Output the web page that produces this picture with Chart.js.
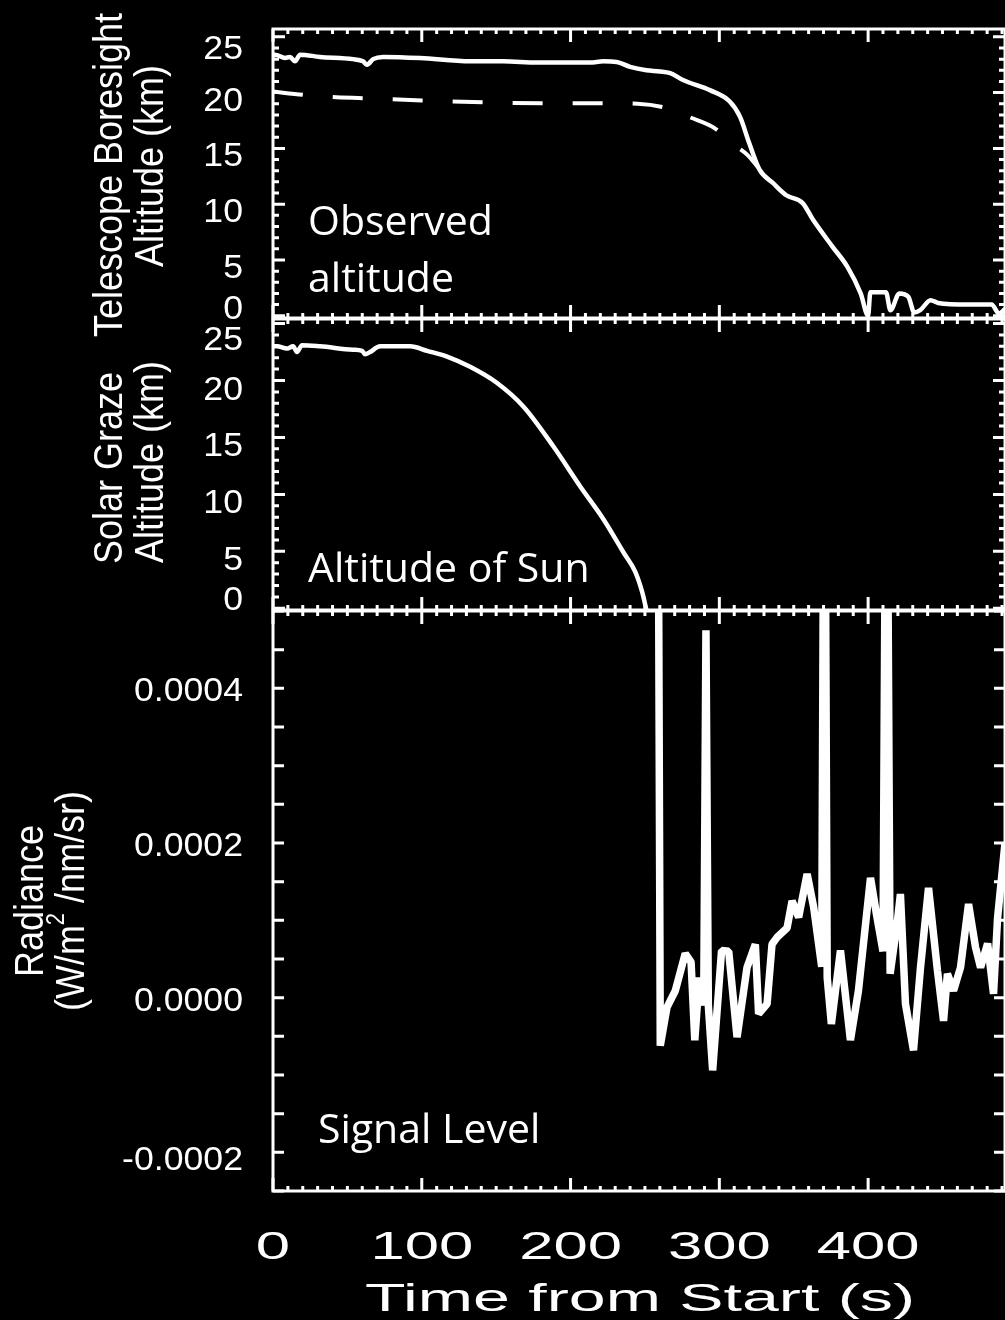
<!DOCTYPE html>
<html>
<head>
<meta charset="utf-8">
<title>Occultation: altitude and signal level</title>
<script src="https://cdn.jsdelivr.net/npm/chart.js@4.4.1/dist/chart.umd.min.js"></script>
<style>
  html, body { margin: 0; padding: 0; background: #000; overflow: hidden; }
  #wrap { position: relative; width: 1005px; height: 1320px; }
  #wrap canvas { position: absolute; left: 0; top: 0; }
</style>
</head>
<body>
<div id="wrap">
  <canvas id="observedChart" width="1005" height="1320"></canvas>
  <canvas id="sunChart" width="1005" height="1320"></canvas>
  <canvas id="signalChart" width="1005" height="1320"></canvas>
</div>
<script>
// time axis (s) and tick labels
const timeMax = 492;
const timeTicks = [0, 100, 200, 300, 400];
const altitudeTicks = [0, 5, 10, 15, 20, 25];
const radianceTicks = [-0.0002, 0, 0.0002, 0.0004];

// telescope boresight altitude, observed (solid)
const observedTime = [0, 1.3, 8.1, 11.4, 14.8, 18.2, 31.6, 53.8, 60.5, 63.2, 67.3, 74, 98.9, 132.5, 154.7, 177.6,
  213, 222, 231, 240, 251, 260, 267, 276, 294, 307, 314, 320, 327, 336, 345, 356, 363, 376, 386, 395, 400,
  401.5, 412, 415, 421, 427, 431, 435, 442, 447, 467, 483, 488, 492];
const observedAlt = [23.3, 23.4, 23.1, 23.2, 22.8, 23.4, 23.2, 23.0, 22.8, 22.5, 23.0, 23.2, 23.1, 22.8, 22.8, 22.7,
  22.7, 22.8, 22.75, 22.3, 22.0, 21.9, 21.75, 21.1, 20.2, 19.2, 17.8, 15.5, 13.1, 11.9, 10.8, 10.1, 8.6, 6.2, 4.4, 2.0, 0,
  2.1, 2.1, 0.5, 2.0, 1.7, 0.3, 0.5, 1.4, 1.15, 1.0, 1.0, 0.2, 0.6];

// telescope boresight altitude, planned (dashed)
const plannedTime = [0, 20, 40, 60, 100, 150, 200, 222, 245, 265, 280, 297, 307, 319, 326];
const plannedAlt = [20.1, 19.8, 19.6, 19.5, 19.3, 19.1, 19.05, 19.05, 19.0, 18.6, 17.8, 16.8, 15.6, 14.4, 13.3];

// solar graze altitude
const sunTime = [0, 2.7, 9.4, 13.5, 16.1, 19.5, 31.6, 53.8, 59.9, 61.9, 65.2, 72, 92.2, 103.6, 117, 132.5, 150.4,
  168.4, 188.5, 206.5, 222.2, 235.6, 243.5, 248.2, 251];
const sunAlt = [23.0, 23.0, 22.8, 23.0, 22.5, 23.1, 23.0, 22.7, 22.6, 22.3, 22.5, 23.0, 23.0, 22.6, 22.1, 21.2, 19.8,
  17.7, 14.2, 10.7, 7.8, 4.9, 3.2, 1.4, -0.15];

// radiance (W/m2/nm/sr)
const signalTime = [258.5, 260.3, 264.8, 270.4, 277.1, 281, 283.5, 286.5, 289.5, 291, 292.6, 295.5, 301.5, 306.3,
  311.9, 318.6, 324.2, 326.4, 332.1, 335.4, 338.8, 345.5, 348.9, 353.3, 359, 363.4, 368.8, 370.6, 372.5, 375.3,
  381.4, 388.1, 393.5, 401.6, 405.6, 410, 412.3, 414.8, 419.7, 421.7, 425.1, 430.5, 435.2, 440.6, 446.6, 450.7,
  453.3, 457.4, 462.1, 467.5, 472.2, 475.6, 480.3, 484.3, 487, 492];
const signalRadiance = [0.0009, -0.000062, -0.0000125, 0.000009, 0.000057, 0.000046, -0.000055, 0.000026, -0.00001,
  0.000475, -0.00001, -0.000094, 0.000061, 0.00006, -0.000051, 0.000039, 0.000069, -0.000021, -0.000008, 0.000069,
  0.000078, 0.00009, 0.000125, 0.000104, 0.00016, 0.000117, 0.00004, 0.0009, 0.000026, -0.000034, 0.000061,
  -0.000055, 0.000009, 0.000155, 0.000108, 0.00006, 0.0009, 0.000031, 0.000099, 0.000134, -0.000008, -0.000068,
  0.000039, 0.000142, 0.000035, -0.00003, 0.000031, 0.000009, 0.000039, 0.000121, 0.000065, 0.000039, 0.00007,
  0.000005, 0.000103, 0.0002];

const AXIS_FONT = '"Liberation Sans", Arial, sans-serif';
const NOTE_FONT = '"Open Sans", "Noto Sans", sans-serif';
const W = 1005, H = 1320, PLOT_LEFT = 273;

const toPoints = (xs, ys) => xs.map((t, i) => ({ x: t, y: ys[i] }));

// text squeezed/stretched horizontally like the original figure
function wideText(ctx, text, x, y, sx, align) {
  ctx.save();
  ctx.translate(x, y);
  ctx.scale(sx, 1);
  ctx.textAlign = align;
  ctx.fillText(text, 0, 0);
  ctx.restore();
}

function upText(ctx, text, x, y) {
  ctx.save();
  ctx.translate(x, y);
  ctx.scale(1.13, 1);
  ctx.rotate(-Math.PI / 2);
  ctx.textAlign = 'center';
  ctx.fillText(text, 0, 0);
  ctx.restore();
}

// "(W/m^2/nm/sr)" written upward with a raised 2
function unitText(ctx, x, y) {
  const big = `36px ${AXIS_FONT}`, small = `22px ${AXIS_FONT}`;
  ctx.save();
  ctx.translate(x, y);
  ctx.scale(1.13, 1);
  ctx.rotate(-Math.PI / 2);
  ctx.textAlign = 'left';
  ctx.font = big;
  const w1 = ctx.measureText('(W/m').width, w3 = ctx.measureText(' /nm/sr)').width;
  ctx.font = small;
  const w2 = ctx.measureText('2').width;
  let cx = -(w1 + w2 + w3) / 2;
  ctx.font = big; ctx.fillText('(W/m', cx, 0); cx += w1;
  ctx.font = small; ctx.fillText('2', cx, -18); cx += w2;
  ctx.font = big; ctx.fillText(' /nm/sr)', cx, 0);
  ctx.restore();
}

// panel box, inward ticks, tick labels, titles and notes
const panelFrame = (cfg) => ({
  id: 'panelFrame',
  afterDraw(chart) {
    const { ctx, chartArea: a, scales: { x, y } } = chart;
    ctx.save();
    ctx.strokeStyle = '#fff';
    ctx.fillStyle = '#fff';
    ctx.lineWidth = 3;
    ctx.strokeRect(a.left, a.top, a.right - a.left, a.bottom - a.top);

    ctx.beginPath();
    for (let t = 0; t <= x.max; t += 10) {
      const px = x.getPixelForValue(t);
      const len = t % 100 === 0 ? 13 : 5;
      ctx.moveTo(px, a.top); ctx.lineTo(px, a.top + len);
      ctx.moveTo(px, a.bottom); ctx.lineTo(px, a.bottom - len);
    }
    const n = Math.round((cfg.tickTo - cfg.tickFrom) / cfg.minorStep);
    for (let i = 0; i <= n; i++) {
      const v = cfg.tickFrom + i * cfg.minorStep;
      const q = v / cfg.majorStep;
      const len = Math.abs(q - Math.round(q)) < 1e-6 ? cfg.majorLen : cfg.minorLen;
      const py = y.getPixelForValue(v);
      ctx.moveTo(a.left, py); ctx.lineTo(a.left + len, py);
      ctx.moveTo(a.right, py); ctx.lineTo(a.right - len, py);
    }
    ctx.stroke();

    ctx.font = `33px ${AXIS_FONT}`;
    ctx.textBaseline = 'alphabetic';
    cfg.ticks.forEach((v, i) => {
      let dy = cfg.shift[1];
      if (i === 0) dy = cfg.shift[0];
      if (i === cfg.ticks.length - 1) dy = cfg.shift[2];
      wideText(ctx, cfg.format(v), 243, y.getPixelForValue(v) + dy + 12, 1.08, 'right');
    });

    ctx.font = `36px ${AXIS_FONT}`;
    cfg.titles.forEach(tl => upText(ctx, tl.text, tl.x, tl.y));
    if (cfg.units) unitText(ctx, cfg.units.x, cfg.units.y);

    ctx.font = `41px ${NOTE_FONT}`;
    ctx.textAlign = 'left';
    cfg.notes.forEach(nt => ctx.fillText(nt.text, nt.x, nt.y));

    if (cfg.timeLabels) {
      ctx.font = `39px ${AXIS_FONT}`;
      timeTicks.forEach(t => wideText(ctx, String(t), x.getPixelForValue(t), 1259, 1.58, 'center'));
      wideText(ctx, 'Time from Start (s)', 640, 1311, 1.7, 'center');
    }
    ctx.restore();
  }
});

function panelOptions(top, bottom, yMin, yMax) {
  return {
    responsive: false,
    animation: false,
    devicePixelRatio: 1,
    layout: { padding: { left: PLOT_LEFT, right: 0, top: top, bottom: H - bottom } },
    scales: {
      x: { type: 'linear', min: 0, max: timeMax, display: false },
      y: { type: 'linear', min: yMin, max: yMax, display: false }
    },
    plugins: { legend: { display: false }, tooltip: { enabled: false } }
  };
}

const lineStyle = { borderColor: '#fff', pointRadius: 0, fill: false };

new Chart(document.getElementById('observedChart'), {
  type: 'line',
  data: {
    datasets: [
      { ...lineStyle, data: toPoints(plannedTime, plannedAlt), borderWidth: 4, borderDash: [30, 30],
        cubicInterpolationMode: 'monotone' },
      { ...lineStyle, data: toPoints(observedTime, observedAlt), borderWidth: 4.5, cubicInterpolationMode: 'monotone' }
    ]
  },
  options: panelOptions(29, 318, -0.2, 25.7),
  plugins: [panelFrame({
    tickFrom: 0, tickTo: 25, minorStep: 1, majorStep: 5, majorLen: 12, minorLen: 6,
    ticks: altitudeTicks, format: v => String(v), shift: [-9, 6, 10],
    titles: [{ text: 'Telescope Boresight', x: 122, y: 175 }, { text: 'Altitude (km)', x: 163, y: 166 }],
    notes: [{ text: 'Observed', x: 308, y: 235 }, { text: 'altitude', x: 308, y: 292 }]
  })]
});

new Chart(document.getElementById('sunChart'), {
  type: 'line',
  data: {
    datasets: [
      { ...lineStyle, data: toPoints(sunTime, sunAlt), borderWidth: 4.5, cubicInterpolationMode: 'monotone' }
    ]
  },
  options: panelOptions(319, 610, -0.15, 25.4),
  plugins: [panelFrame({
    tickFrom: 0, tickTo: 25, minorStep: 1, majorStep: 5, majorLen: 12, minorLen: 6,
    ticks: altitudeTicks, format: v => String(v), shift: [-10, 7, 14],
    titles: [{ text: 'Solar Graze', x: 122, y: 468 }, { text: 'Altitude (km)', x: 163, y: 462 }],
    notes: [{ text: 'Altitude of Sun', x: 308, y: 582 }]
  })]
});

new Chart(document.getElementById('signalChart'), {
  type: 'line',
  data: {
    datasets: [
      { ...lineStyle, data: toPoints(signalTime, signalRadiance), borderWidth: 7.5, tension: 0,
        borderJoinStyle: 'bevel' }
    ]
  },
  options: panelOptions(611, 1191, -0.00025, 0.0005),
  plugins: [panelFrame({
    tickFrom: -0.00025, tickTo: 0.0005, minorStep: 0.00005, majorStep: 0.00005, majorLen: 11, minorLen: 11,
    ticks: radianceTicks, format: v => v.toFixed(4), shift: [6, 1, 1],
    titles: [{ text: 'Radiance', x: 43, y: 901 }],
    units: { x: 84, y: 901 },
    notes: [{ text: 'Signal Level', x: 318, y: 1143 }],
    timeLabels: true
  })]
});
</script>
</body>
</html>
